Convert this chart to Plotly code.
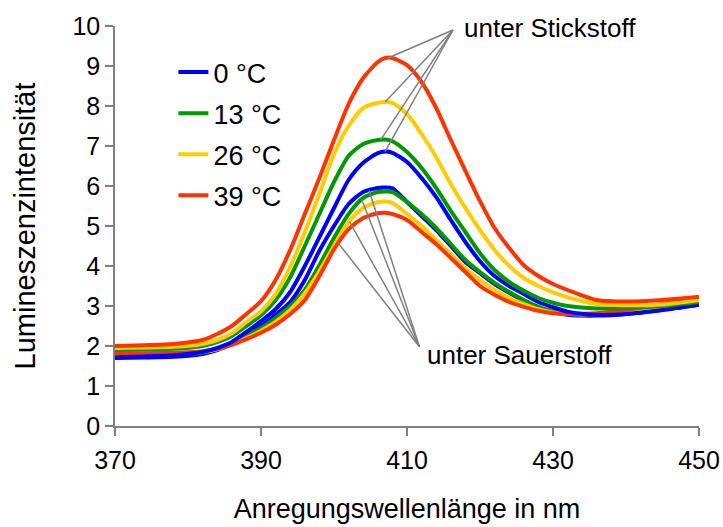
import numpy as np
import plotly.graph_objects as go

# wavelength grid (nm)
wl = [370, 374, 378, 382, 384, 386, 388, 390, 392, 394, 396, 398, 400, 402, 404, 406, 407, 408,
      410, 412, 414, 416, 418, 420, 422, 424, 426, 428, 430, 432, 436, 440, 445, 450]

# nitrogen (unter Stickstoff)
n2_0 = [1.72, 1.74, 1.77, 1.85, 1.95, 2.1, 2.35, 2.62, 2.92, 3.35, 4.0, 4.72, 5.45, 6.15, 6.58, 6.82, 6.86, 6.83,
        6.6, 6.2, 5.72, 5.15, 4.6, 4.12, 3.75, 3.5, 3.3, 3.1, 2.97, 2.86, 2.78, 2.8, 2.9, 3.03]
n2_13 = [1.9, 1.91, 1.93, 2.0, 2.1, 2.25, 2.5, 2.77, 3.15, 3.72, 4.5, 5.3, 6.1, 6.75, 7.05, 7.15, 7.16, 7.12,
         6.85, 6.45, 5.95, 5.38, 4.85, 4.32, 3.9, 3.6, 3.38, 3.2, 3.08, 3.0, 2.94, 2.95, 3.0, 3.1]
n2_26 = [1.95, 1.96, 1.98, 2.05, 2.15, 2.32, 2.6, 2.87, 3.3, 3.98, 4.85, 5.8, 6.8, 7.5, 7.95, 8.08, 8.1, 8.08,
         7.8, 7.3, 6.72, 6.05, 5.45, 4.9, 4.4, 4.0, 3.7, 3.5, 3.34, 3.22, 3.05, 3.02, 3.04, 3.15]
n2_39 = [2.0, 2.02, 2.05, 2.15, 2.3, 2.5, 2.8, 3.12, 3.65, 4.4, 5.3, 6.2, 7.15, 8.05, 8.7, 9.1, 9.2, 9.2,
         9.02, 8.6, 7.95, 7.15, 6.38, 5.62, 4.95, 4.45, 4.02, 3.75, 3.55, 3.4, 3.15, 3.11, 3.15, 3.23]

# oxygen (unter Sauerstoff)
o2_0 = [1.7, 1.71, 1.73, 1.8, 1.9, 2.05, 2.28, 2.5, 2.78, 3.1, 3.65, 4.38, 5.0, 5.55, 5.85, 5.95, 5.96, 5.94,
        5.6, 5.25, 4.9, 4.5, 4.1, 3.82, 3.55, 3.33, 3.13, 2.97, 2.85, 2.78, 2.76, 2.8, 2.9, 3.03]
o2_13 = [1.75, 1.76, 1.78, 1.84, 1.92, 2.06, 2.26, 2.45, 2.7, 3.0, 3.4, 4.02, 4.7, 5.3, 5.7, 5.85, 5.86, 5.85,
         5.6, 5.3, 4.95, 4.55, 4.15, 3.85, 3.58, 3.35, 3.15, 2.98, 2.88, 2.82, 2.8, 2.85, 2.95, 3.08]
o2_26 = [1.78, 1.79, 1.8, 1.85, 1.92, 2.04, 2.2, 2.38, 2.6, 2.9, 3.32, 3.87, 4.5, 5.1, 5.45, 5.6, 5.61, 5.58,
         5.3, 5.0, 4.65, 4.3, 3.95, 3.65, 3.4, 3.2, 3.05, 2.92, 2.84, 2.8, 2.8, 2.87, 2.98, 3.15]
o2_39 = [1.82, 1.82, 1.83, 1.87, 1.93, 2.03, 2.17, 2.33, 2.53, 2.8, 3.15, 3.75, 4.42, 4.92, 5.2, 5.32, 5.33, 5.3,
         5.15, 4.85, 4.55, 4.2, 3.85, 3.5, 3.28, 3.1, 2.98, 2.88, 2.82, 2.8, 2.82, 2.9, 3.05, 3.2]

temps = ["0 °C", "13 °C", "26 °C", "39 °C"]
colors = ["#0000FF", "#009900", "#FFCC00", "#FF3300"]
n2_series = [n2_0, n2_13, n2_26, n2_39]
o2_series = [o2_0, o2_13, o2_26, o2_39]

FONT = "Arial, Liberation Sans, sans-serif"
fig = go.Figure()

for name, col, ys in zip(temps, colors, o2_series):
    fig.add_trace(go.Scatter(x=wl, y=ys, mode="lines", name=name, legendgroup=name,
                             showlegend=False,
                             line=dict(color=col, width=4, shape="spline", smoothing=0.7)))
for name, col, ys in zip(temps, colors, n2_series):
    fig.add_trace(go.Scatter(x=wl, y=ys, mode="lines", name=name, legendgroup=name,
                             showlegend=True,
                             line=dict(color=col, width=4, shape="spline", smoothing=0.7)))

# leader lines
n2_hub = (416.3, 9.9)
o2_hub = (411.7, 1.98)
n2_ends = [407.0, 406.4, 407.0, 407.4]
o2_ends = [404.8, 403.8, 402.1, 400.6]
shapes = []
for xe, ys in zip(n2_ends, n2_series):
    ye = float(np.interp(xe, wl, ys))
    shapes.append(dict(type="line", xref="x", yref="y", x0=n2_hub[0], y0=n2_hub[1], x1=xe, y1=ye,
                       line=dict(color="#808080", width=1.5), layer="above"))
for xe, ys in zip(o2_ends, o2_series):
    ye = float(np.interp(xe, wl, ys))
    shapes.append(dict(type="line", xref="x", yref="y", x0=o2_hub[0], y0=o2_hub[1], x1=xe, y1=ye,
                       line=dict(color="#808080", width=1.5), layer="above"))

annotations = [
    dict(x=417.6, y=9.95, xref="x", yref="y", text="unter Stickstoff", showarrow=False,
         xanchor="left", yanchor="middle", font=dict(size=26, color="black", family=FONT)),
    dict(x=412.4, y=1.78, xref="x", yref="y", text="unter Sauerstoff", showarrow=False,
         xanchor="left", yanchor="middle", font=dict(size=26, color="black", family=FONT)),
]

fig.update_layout(
    width=723, height=527,
    margin=dict(l=115, r=24, t=26, b=101, autoexpand=False),
    paper_bgcolor="white", plot_bgcolor="white",
    font=dict(family=FONT, color="black", size=25),
    shapes=shapes, annotations=annotations,
    legend=dict(x=0.1, y=0.945, xanchor="left", yanchor="top", bgcolor="rgba(0,0,0,0)",
                font=dict(size=27, family=FONT), tracegroupgap=3, traceorder="grouped"),
    xaxis=dict(range=[370, 450], tickmode="array", tickvals=[370, 390, 410, 430, 450],
               showline=True, linecolor="#808080", linewidth=1.5, ticks="outside", ticklen=8,
               tickcolor="#808080", tickwidth=1.5, showgrid=False, zeroline=False,
               tickfont=dict(size=25), ticklabelstandoff=3, automargin=False,
               title=dict(text="Anregungswellenlänge in nm", font=dict(size=27), standoff=26)),
    yaxis=dict(range=[0, 10], tickmode="array", tickvals=list(range(0, 11)),
               showline=True, linecolor="#808080", linewidth=1.5, ticks="outside", ticklen=8,
               tickcolor="#808080", tickwidth=1.5, showgrid=False, zeroline=False,
               tickfont=dict(size=25), automargin=False,
               title=dict(text="Lumineszenzintensität", font=dict(size=29), standoff=28)),
)

fig.write_html("out.html")
